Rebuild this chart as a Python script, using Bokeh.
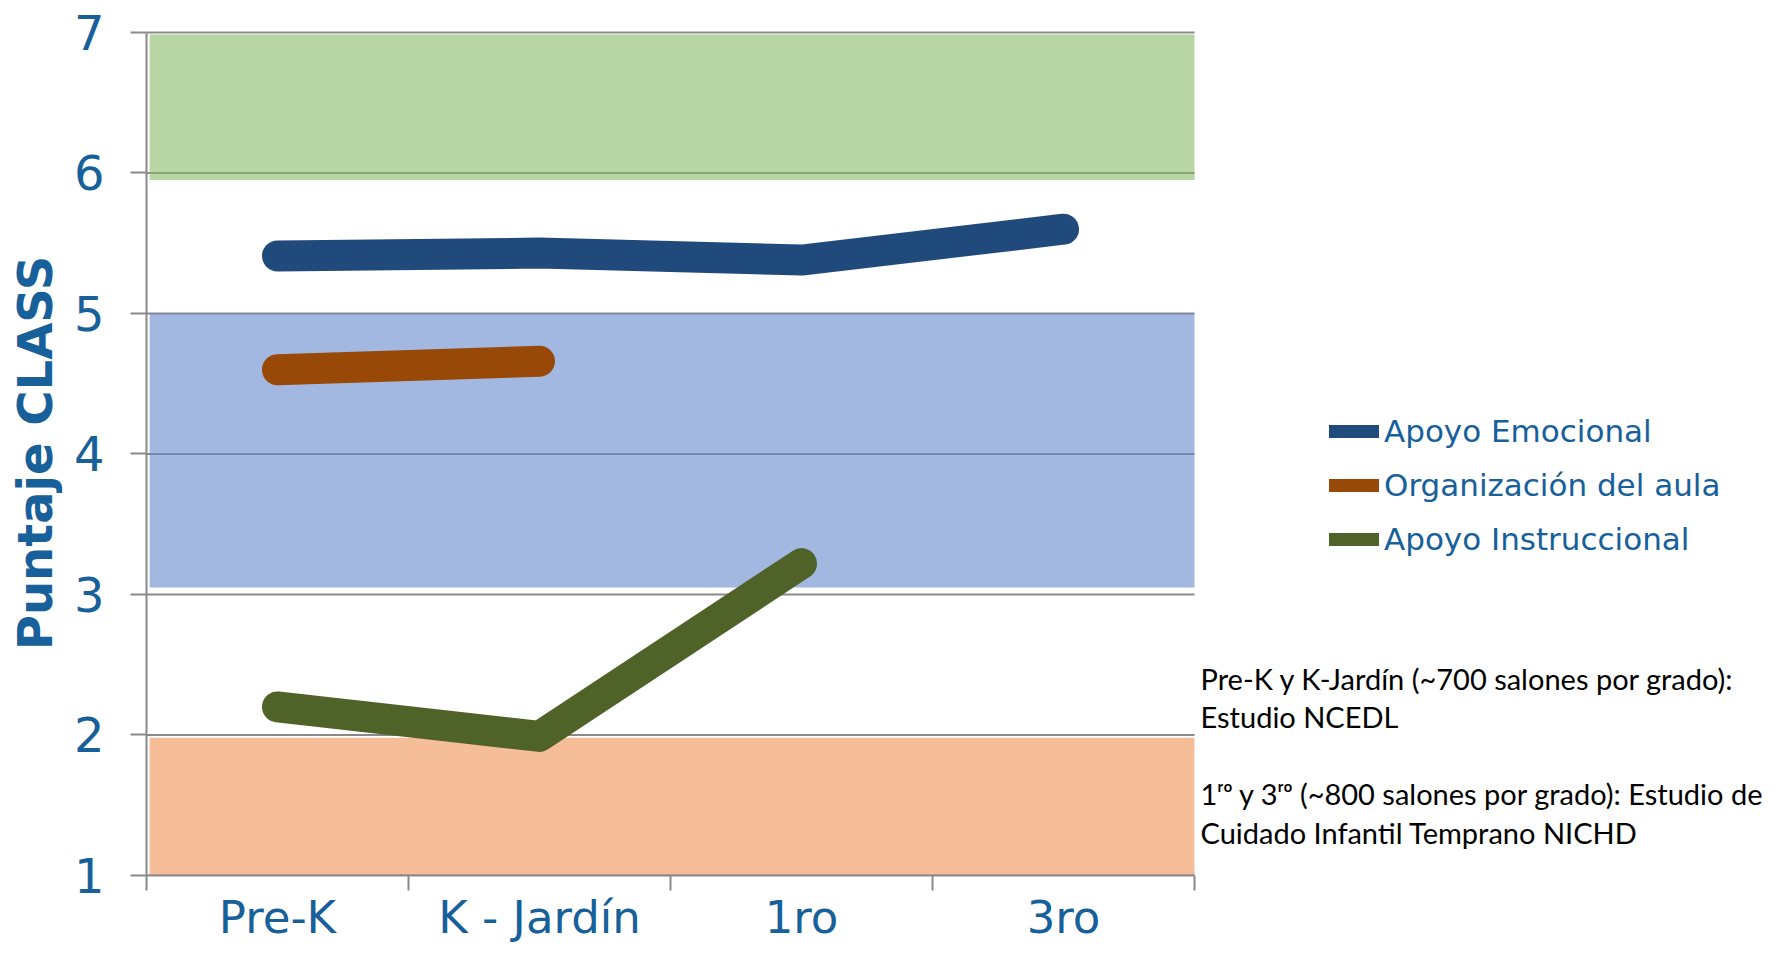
from bokeh.plotting import figure
from bokeh.models import FixedTicker, Legend, LegendItem, Label, Range1d, LinearAxis
from bokeh.embed import file_html
from bokeh.resources import INLINE

# ---- data ----
grades = ["Pre-K", "K - Jardín", "1ro", "3ro"]
apoyo_emocional = [5.41, 5.43, 5.38, 5.60]
organizacion_aula = [4.60, 4.66]
apoyo_instruccional = [2.20, 1.99, 3.22]
series_names = ["Apoyo Emocional", "Organización del aula", "Apoyo Instruccional"]
series_colors = ["#214A7C", "#984807", "#4F6228"]
band_bottoms = [1.0, 3.05, 5.95]
band_tops = [1.98, 5.0, 6.985]
band_colors = ["#EE9353", "#6489CB", "#89BB67"]
y_ticks = [1, 2, 3, 4, 5, 6, 7]
note_lines = [
    "Pre-K y K-Jardín (~700 salones por grado):",
    "Estudio NCEDL",
    "1ʳᵒ y 3ʳᵒ (~800 salones por grado): Estudio de",
    "Cuidado Infantil Temprano NICHD",
]

TXT = "#17609A"
GRAY = "#8A8A8A"

# ---- layout constants (pixels) ----
W, H = 1767, 946
LEFT, TOP, BOTTOM = 146, 30, 70
PX_X = 262.0          # pixels per category
n = len(grades)
frame_w = W - LEFT
X_MAX = frame_w / PX_X
Y_TOP = 7 + 2 / 140.6

x_pos = [i + 0.5 for i in range(n)]
x_bounds = [float(i) for i in range(n + 1)]

p = figure(width=W, height=H,
           x_range=Range1d(0, X_MAX), y_range=Range1d(1, Y_TOP),
           output_backend="svg", toolbar_location=None,
           x_axis_location=None, y_axis_location=None,
           min_border_left=LEFT, min_border_right=0,
           min_border_top=TOP, min_border_bottom=BOTTOM)
p.outline_line_color = None
p.xgrid.visible = False
p.ygrid.visible = False

# grid lines (limited to the chart area)
p.segment(x0=0, x1=n, y0=y_ticks, y1=y_ticks, line_color=GRAY, line_width=2)

# bands (semi-transparent, over the grid)
for b, t, c in zip(band_bottoms, band_tops, band_colors):
    p.quad(left=0.012, right=n, bottom=b, top=t,
           fill_color=c, fill_alpha=0.6, line_color=None)

# series: thin copies feed the legend, thick lines cover them
series_vals = [apoyo_emocional, organizacion_aula, apoyo_instruccional]
legend_items = []
for name, vals, col in zip(series_names, series_vals, series_colors):
    thin = p.line(x_pos[:len(vals)], vals, line_width=13, line_color=col,
                  line_cap="round")
    legend_items.append(LegendItem(label=name, renderers=[thin]))
for vals, col in zip(series_vals, series_colors):
    p.line(x_pos[:len(vals)], vals, line_width=31, line_color=col,
           line_cap="round", line_join="round")

# x axis
xa = LinearAxis(bounds=(0, n))
xa.ticker = FixedTicker(ticks=x_pos, minor_ticks=x_bounds)
xa.major_label_overrides = {x: g for x, g in zip(x_pos, grades)}
xa.major_tick_out = 0
xa.major_tick_in = 0
xa.minor_tick_out = 15
xa.minor_tick_in = 0
xa.minor_tick_line_color = GRAY
xa.minor_tick_line_width = 2
xa.axis_line_color = GRAY
xa.axis_line_width = 2
xa.major_label_text_font = "DejaVu Sans"
xa.major_label_text_font_size = "45px"
xa.major_label_text_color = TXT
xa.major_label_standoff = 0
p.add_layout(xa, "below")

ya = LinearAxis(bounds=(1, 7))
ya.ticker = FixedTicker(ticks=y_ticks)
ya.major_tick_out = 16
ya.major_tick_in = 0
ya.minor_tick_out = 0
ya.minor_tick_in = 0
ya.major_tick_line_color = GRAY
ya.major_tick_line_width = 2
ya.axis_line_color = GRAY
ya.axis_line_width = 2
ya.major_label_text_font = "DejaVu Sans"
ya.major_label_text_font_size = "48px"
ya.major_label_text_color = TXT
ya.major_label_standoff = 26
ya.axis_label = "Puntaje CLASS"
ya.axis_label_text_font = "DejaVu Sans"
ya.axis_label_text_font_style = "bold"
ya.axis_label_text_font_size = "48px"
ya.axis_label_text_color = TXT
ya.axis_label_standoff = 8
p.add_layout(ya, "left")

legend = Legend(items=legend_items, location=(1183, 318),
                glyph_width=50, glyph_height=20, label_height=20,
                label_standoff=5, spacing=18, padding=0, margin=0,
                border_line_color=None, background_fill_alpha=0,
                label_text_font="DejaVu Sans", label_text_font_size="31px",
                label_text_color=TXT)
p.add_layout(legend)

# notes
note_y = [197, 159, 82, 43]
for txt, yy in zip(note_lines, note_y):
    p.add_layout(Label(x=1054, y=yy, x_units="screen", y_units="screen",
                       text=txt, text_font="Lato", text_font_size="29px",
                       text_color="black", text_baseline="middle",
                       text_align="left"))

open("out.html", "w").write(file_html(p, INLINE))
